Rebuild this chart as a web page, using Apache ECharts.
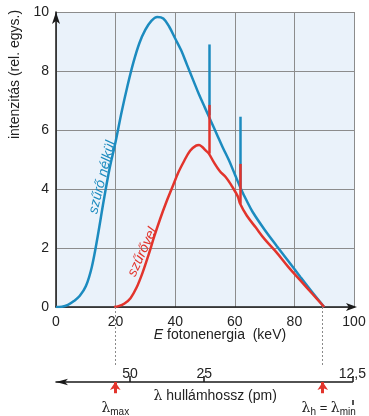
<!DOCTYPE html>
<html><head><meta charset="utf-8">
<script src="https://cdn.jsdelivr.net/npm/echarts@6/dist/echarts.min.js"></script>
<style>html,body{margin:0;padding:0;background:#fff}#c{width:369px;height:416px}</style>
</head><body><div id="c"></div>
<script>
// Energy axis (keV) and intensity axis (rel. units)
const energyTickStep = 20;
const intensityTickStep = 2;
// wavelength tick positions given as photon energies (keV); label = 1250 / E (pm)
const wavelengthTickEnergies = [25, 50, 100];
const wavelengthEndTick = [100];
// marker energies: lambda_max (filter edge) and lambda_min (tube voltage limit)
const markerEnergies = [20, 90];
const markerLabels = ['{l|λ}{s|max}', '{l|λ}{s|h}{e| = }{l|λ}{s|min}'];

// "szűrő nélkül" (without filter) – continuous spectrum
const unfilteredE = [0,2,4,6,8,10,12,14,16,18,20,22,24,26,28,30,32,34,36,38,40,42,44,46,48,50,52,54,56,58,60,62,64,66,70,74,78,82,86,90];
const unfilteredI = [0,0.01,0.07,0.2,0.38,0.7,1.35,2.4,3.6,4.7,5.6,6.6,7.5,8.3,8.95,9.4,9.7,9.83,9.78,9.5,9.1,8.7,8.2,7.7,7.2,6.75,6.3,5.85,5.4,4.98,4.5,4.02,3.6,3.22,2.62,2.08,1.55,1.02,0.5,0];
// "szűrővel" (with filter) – continuous spectrum
const filteredE = [19.5,21,23,25,27,29,31,33,35,37,39,41,43,45,47,48,49,50.3,51.3,53,55,57,59,61,61.8,64,67,70,74,78,82,86,90];
const filteredI = [0,0.03,0.12,0.3,0.65,1.15,1.75,2.4,3.0,3.55,4.05,4.55,4.95,5.3,5.47,5.49,5.43,5.3,5.2,4.9,4.6,4.4,4.1,3.75,3.5,3.1,2.7,2.3,1.85,1.35,0.9,0.45,0];
// characteristic lines (spikes)
const spikeE = [51.3, 61.8];
const unfilteredSpikeBase = [6.5, 4.05];
const unfilteredSpikeTop = [8.9, 6.45];
const filteredSpikeBase = [5.2, 3.5];
const filteredSpikeTop = [6.85, 4.85];

const BLUE = '#1c8bbf', RED = '#e2342c', AX = '#1a1a1a', GRIDC = '#8c8c8c';
const zip = (a, b) => a.map((v, i) => [v, b[i]]);
const fmtWl = v => String(1250 / v).replace('.', ',');
const spikes = (base, top) => spikeE.map((e, i) => [{coord: [e, base[i]]}, {coord: [e, top[i]]}]);

const chart = echarts.init(document.getElementById('c'), null, {renderer: 'canvas'});
chart.setOption({
  animation: false,
  textStyle: {fontFamily: 'Liberation Sans, Arial, sans-serif'},
  grid: [
    {left: 56, top: 12, width: 298, height: 295, show: true, backgroundColor: '#eaf2fa', borderWidth: 0},
    {left: 56, top: 307, width: 298, height: 93}
  ],
  xAxis: [
    {gridIndex: 0, type: 'value', min: 0, max: 100, interval: energyTickStep,
     axisLine: {show: true, onZero: false, symbol: ['none', 'arrow'], symbolSize: [6, 11], symbolOffset: [0, 3], lineStyle: {color: AX, width: 1.5}},
     axisTick: {show: false},
     splitLine: {show: true, lineStyle: {color: GRIDC, width: 1}},
     axisLabel: {fontSize: 14, color: '#222', margin: 8},
     name: '{i|E} fotonenergia  (keV)', nameLocation: 'middle', nameGap: 21, nameMoveOverlap: false,
     nameTextStyle: {fontSize: 14, color: '#222', padding: [0, 0, 0, 30], rich: {i: {fontStyle: 'italic', fontSize: 14, color: '#222'}}}},
    {gridIndex: 1, type: 'value', min: 0, max: 100,
     axisLine: {show: true, onZero: true, symbol: ['arrow', 'none'], symbolSize: [5, 12], lineStyle: {color: AX, width: 1.5}},
     axisTick: {show: true, inside: true, length: 6, customValues: wavelengthTickEnergies, lineStyle: {color: AX, width: 1.5}},
     axisLabel: {show: true, inside: true, customValues: wavelengthTickEnergies, formatter: fmtWl, fontSize: 14, color: '#222', margin: 19},
     splitLine: {show: false},
     name: '{l|λ} hullámhossz (pm)', nameLocation: 'middle', nameGap: -11, nameMoveOverlap: false,
     nameTextStyle: {fontSize: 14, color: '#222', padding: [0, 0, 0, 22], rich: {l: {fontFamily: 'DejaVu Serif', fontSize: 14, color: '#222'}}}},
    {gridIndex: 1, type: 'value', min: 0, max: 100, position: 'bottom',
     axisLine: {show: false, onZero: true},
     axisTick: {show: true, inside: false, length: 5, customValues: wavelengthEndTick, lineStyle: {color: AX, width: 1.5}},
     axisLabel: {show: false}, splitLine: {show: false}}
  ],
  yAxis: [
    {gridIndex: 0, type: 'value', min: 0, max: 10, interval: intensityTickStep, position: 'left',
     axisLine: {show: true, onZero: false, symbol: ['none', 'arrow'], symbolSize: [6, 12], symbolOffset: [0, 0], lineStyle: {color: AX, width: 1.5}},
     axisTick: {show: false},
     splitLine: {show: true, lineStyle: {color: GRIDC, width: 1}},
     axisLabel: {fontSize: 14, color: '#222', margin: 7},
     name: 'intenzitás (rel. egys.)', nameLocation: 'middle', nameRotate: 90, nameGap: 34, nameMoveOverlap: false,
     nameTextStyle: {fontSize: 14, color: '#222', padding: [0, 0, 0, 170]}},
    {gridIndex: 1, type: 'value', min: -0.24, max: 1, show: false}
  ],
  series: [
    {type: 'line', xAxisIndex: 0, yAxisIndex: 0, data: zip(unfilteredE, unfilteredI), symbol: 'none', smooth: 0.35,
     lineStyle: {color: BLUE, width: 2.5}, itemStyle: {color: BLUE},
     markLine: {symbol: ['none', 'none'], silent: true, label: {show: false},
       lineStyle: {color: BLUE, type: 'solid', width: 2.5}, data: spikes(unfilteredSpikeBase, unfilteredSpikeTop)},
     markPoint: {symbol: 'circle', symbolSize: 0, silent: true,
       data: [{coord: [15.5, 4.4]}],
       label: {show: true, position: 'inside', formatter: 'szűrő nélkül', rotate: 76, color: BLUE, fontStyle: 'italic', fontSize: 14}}},
    {type: 'line', xAxisIndex: 0, yAxisIndex: 0, data: zip(filteredE, filteredI), symbol: 'none', smooth: 0.35,
     lineStyle: {color: RED, width: 2.5}, itemStyle: {color: RED},
     markLine: {symbol: ['none', 'none'], silent: true, label: {show: false},
       lineStyle: {color: RED, type: 'solid', width: 2.5}, data: spikes(filteredSpikeBase, filteredSpikeTop)},
     markPoint: {symbol: 'circle', symbolSize: 0, silent: true,
       data: [{coord: [29, 1.86]}],
       label: {show: true, position: 'inside', formatter: 'szűrővel', rotate: 65, color: RED, fontStyle: 'italic', fontSize: 14}}},
    {type: 'line', xAxisIndex: 1, yAxisIndex: 1, data: [], silent: true,
     markLine: {symbol: ['none', 'none'], silent: true, label: {show: false},
       lineStyle: {color: '#8a8a8a', type: [2, 2], width: 1},
       data: markerEnergies.map(e => [{coord: [e, 1]}, {coord: [e, 0.21]}])}},
    {type: 'line', xAxisIndex: 1, yAxisIndex: 1, data: [], silent: true,
     markLine: {symbol: ['none', 'arrow'], symbolSize: [8, 8], silent: true,
       lineStyle: {color: RED, type: 'solid', width: 3},
       label: {show: true, position: 'start', distance: 6, color: '#222',
         rich: {l: {fontFamily: 'DejaVu Serif', fontSize: 14, color: '#222', lineHeight: 18},
                s: {fontSize: 10, color: '#222', verticalAlign: 'bottom', lineHeight: 18},
                e: {fontSize: 13, color: '#222', lineHeight: 18}}},
       data: markerEnergies.map((e, i) => [
         {coord: [e, -0.15], label: {formatter: markerLabels[i], padding: i ? [0, 0, 0, 12] : 0}},
         {coord: [e, 0]}])}}
  ]
});
</script></body></html>
